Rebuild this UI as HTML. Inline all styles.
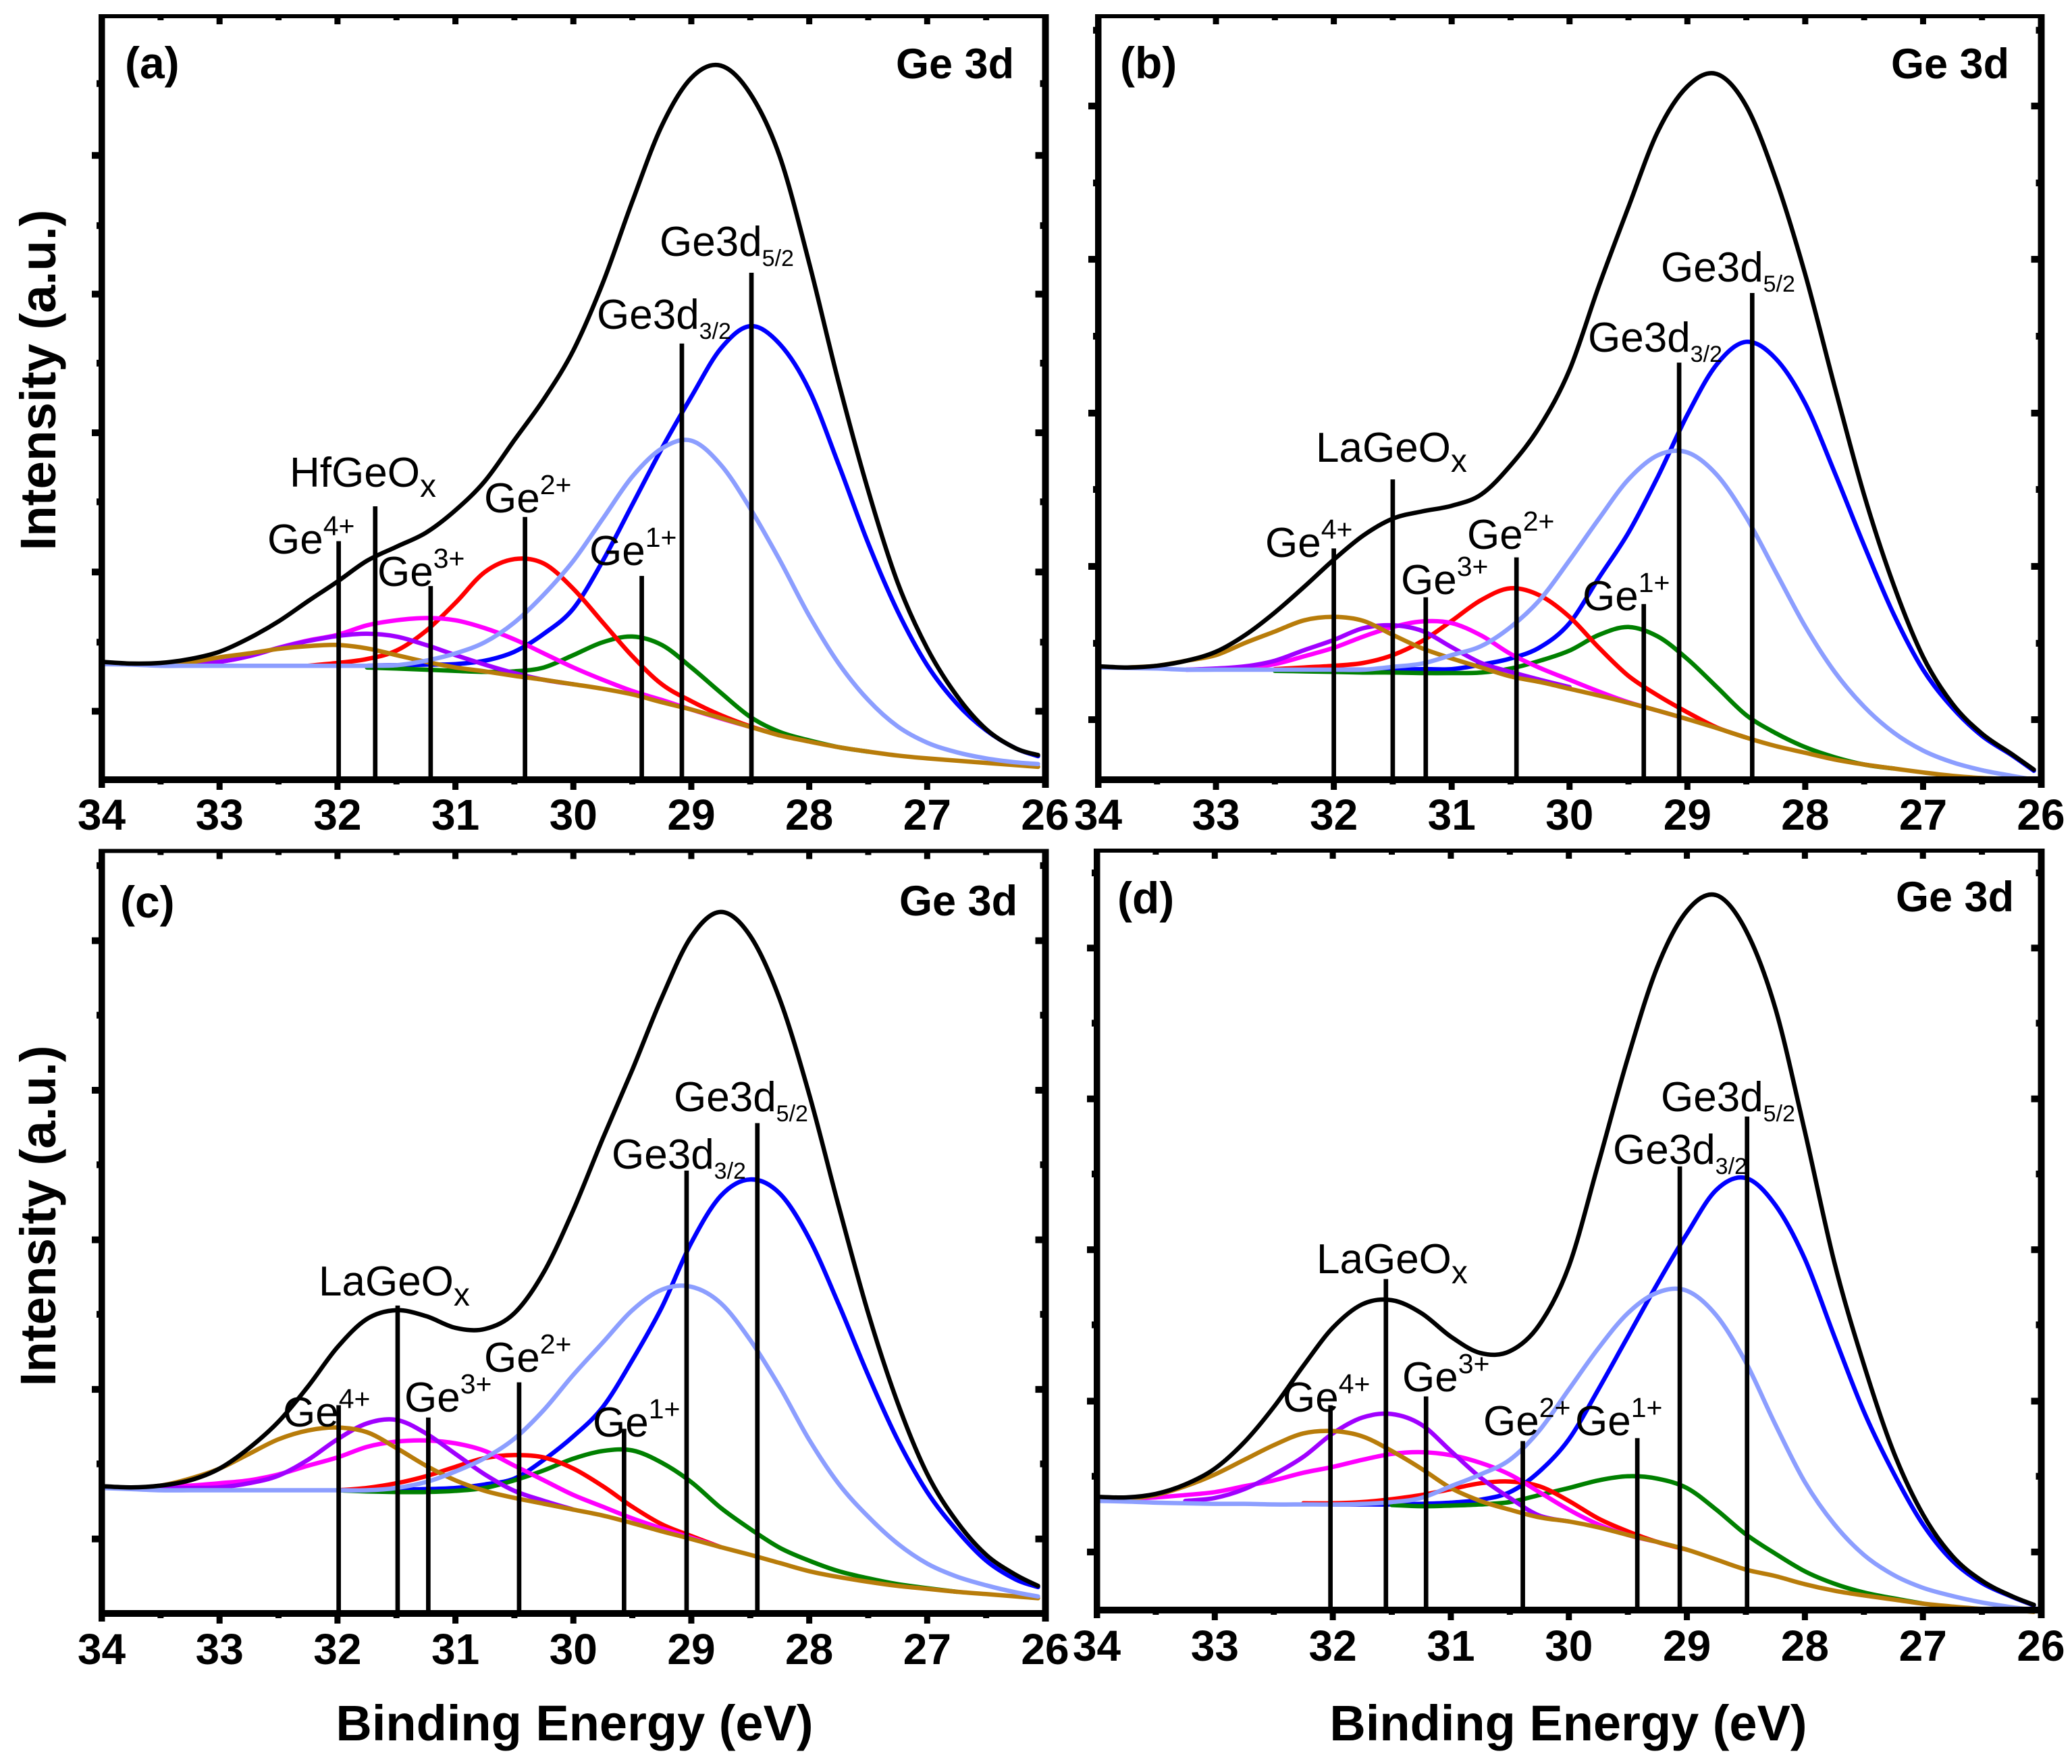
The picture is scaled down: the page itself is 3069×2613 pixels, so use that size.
<!DOCTYPE html>
<html lang="en">
<head>
<meta charset="utf-8">
<title>Ge 3d XPS spectra</title>
<style>
html,body{margin:0;padding:0;background:#fff;}
svg{display:block;}
text{font-family:"Liberation Sans",Arial,sans-serif;fill:#000;}
.pl{font-size:62px;}
.b{font-weight:bold;}
</style>
</head>
<body>
<svg id="figure" xmlns="http://www.w3.org/2000/svg" width="3069" height="2613" viewBox="0 0 3069 2613">
<rect x="0" y="0" width="3069" height="2613" fill="#fff"/>
<g id="panels"></g>

<g>
<text class="b" x="185" y="116" font-size="66">(a)</text>
<text class="b" x="1327" y="116" font-size="63">Ge 3d</text>
<text class="pl" x="396" y="820">Ge<tspan font-size="41" dy="-27">4+</tspan></text>
<text class="pl" x="429" y="721">HfGeO<tspan font-size="48" dy="15">x</tspan></text>
<text class="pl" x="559" y="868">Ge<tspan font-size="41" dy="-27">3+</tspan></text>
<text class="pl" x="717" y="759">Ge<tspan font-size="41" dy="-27">2+</tspan></text>
<text class="pl" x="873" y="837">Ge<tspan font-size="41" dy="-27">1+</tspan></text>
<text class="pl" x="884" y="487">Ge3d<tspan font-size="34" dy="15">3/2</tspan></text>
<text class="pl" x="977" y="379">Ge3d<tspan font-size="34" dy="15">5/2</tspan></text>
</g>

<g>
<text class="b" x="1659" y="116" font-size="66">(b)</text>
<text class="b" x="2801" y="116" font-size="63">Ge 3d</text>
<text class="pl" x="1874" y="825">Ge<tspan font-size="41" dy="-27">4+</tspan></text>
<text class="pl" x="1949" y="684">LaGeO<tspan font-size="48" dy="15">x</tspan></text>
<text class="pl" x="2075" y="880">Ge<tspan font-size="41" dy="-27">3+</tspan></text>
<text class="pl" x="2173" y="813">Ge<tspan font-size="41" dy="-27">2+</tspan></text>
<text class="pl" x="2344" y="904">Ge<tspan font-size="41" dy="-27">1+</tspan></text>
<text class="pl" x="2352" y="521">Ge3d<tspan font-size="34" dy="15">3/2</tspan></text>
<text class="pl" x="2460" y="417">Ge3d<tspan font-size="34" dy="15">5/2</tspan></text>
</g>

<g>
<text class="b" x="178" y="1359" font-size="66">(c)</text>
<text class="b" x="1332" y="1356" font-size="63">Ge 3d</text>
<text class="pl" x="419" y="2113">Ge<tspan font-size="41" dy="-27">4+</tspan></text>
<text class="pl" x="472" y="1919">LaGeO<tspan font-size="48" dy="15">x</tspan></text>
<text class="pl" x="599" y="2091">Ge<tspan font-size="41" dy="-27">3+</tspan></text>
<text class="pl" x="717" y="2032">Ge<tspan font-size="41" dy="-27">2+</tspan></text>
<text class="pl" x="878" y="2128">Ge<tspan font-size="41" dy="-27">1+</tspan></text>
<text class="pl" x="906" y="1731">Ge3d<tspan font-size="34" dy="15">3/2</tspan></text>
<text class="pl" x="998" y="1646">Ge3d<tspan font-size="34" dy="15">5/2</tspan></text>
</g>

<g>
<text class="b" x="1655" y="1353" font-size="66">(d)</text>
<text class="b" x="2808" y="1350" font-size="63">Ge 3d</text>
<text class="pl" x="1900" y="2091">Ge<tspan font-size="41" dy="-27">4+</tspan></text>
<text class="pl" x="1950" y="1886">LaGeO<tspan font-size="48" dy="15">x</tspan></text>
<text class="pl" x="2077" y="2061">Ge<tspan font-size="41" dy="-27">3+</tspan></text>
<text class="pl" x="2197" y="2126">Ge<tspan font-size="41" dy="-27">2+</tspan></text>
<text class="pl" x="2333" y="2126">Ge<tspan font-size="41" dy="-27">1+</tspan></text>
<text class="pl" x="2389" y="1724">Ge3d<tspan font-size="34" dy="15">3/2</tspan></text>
<text class="pl" x="2460" y="1646">Ge3d<tspan font-size="34" dy="15">5/2</tspan></text>
</g>

<text class="b" x="82" y="563" font-size="74.5" text-anchor="middle" transform="rotate(-90 82 563)">Intensity (a.u.)</text>
<text class="b" x="82" y="1801" font-size="74.5" text-anchor="middle" transform="rotate(-90 82 1801)">Intensity (a.u.)</text>
<text class="b" x="851" y="2578" font-size="74" text-anchor="middle">Binding Energy (eV)</text>
<text class="b" x="2323" y="2578" font-size="74" text-anchor="middle">Binding Energy (eV)</text>
</svg>

<script>
const energies = [34,33.75,33.5,33.25,33,32.75,32.5,32.25,32,31.75,31.5,31.25,31,30.75,30.5,30.25,30,29.75,29.5,29.25,29,28.75,28.5,28.25,28,27.75,27.5,27.25,27,26.75,26.5,26.25,26.06];
const xTickLabels = [34,33,32,31,30,29,28,27,26];
const xMinorTicks = [33.5,32.5,31.5,30.5,29.5,28.5,27.5,26.5];

const panelA_black = [210,207,208,215,228,252,282,318,353,390,415,440,480,532,605,678,765,885,1030,1165,1250,1272,1222,1110,920,707,515,351,234,150,90,56,44];
const panelA_blue = [null,null,null,null,null,null,null,null,203,203,204,205,206,212,228,260,305,390,490,590,682,768,808,776,694,561,421,300,204,136,88,56,42];
const panelA_lightblue = [206,205,203,203,203,203,203,203,203,203,204,212,225,245,280,330,390,465,540,590,604,561,483,391,292,207,142,95,66,49,38,31,28];
const panelA_brown = [null,null,204,209,218,225,233,238,240,234,222,210,200,193,185,178,170,162,152,138,125,110,94,79,68,58,50,43,38,34,30,26,23];
const panelA_purple = [null,null,204,206,210,220,235,247,256,260,255,240,222,205,190,178,170];
const panelA_magenta = [null,null,null,205,210,220,235,248,258,275,284,288,284,270,250,225,200,178,158,142,125,109,94];
const panelA_red = [null,null,null,null,null,null,null,203,208,215,230,265,315,370,393,385,340,280,220,170,140,115,95,79];
const panelA_green = [null,null,null,null,null,null,null,null,null,200,198,196,194,192,193,200,222,245,255,240,200,155,112,85,70,58,50];
const panelA_peakEnergies = [31.99,31.68,31.21,30.41,29.42,29.08,28.49];
const panelA_peakHeights = [425,487,345,468,363,777,903];
const panelA_yMajor = [1112,865,618,370,122];
const panelA_yMinor = [1240,987,742,495,245];

const panelB_black = [202,200,203,212,228,258,298,344,392,435,465,478,488,508,560,630,730,880,1020,1155,1235,1257,1200,1070,900,700,507,347,219,135,82,46,18];
const panelB_blue = [null,null,null,null,null,null,null,null,196,196,196,197,197,205,216,236,279,360,440,540,650,740,780,750,670,547,417,295,196,128,78,44,16];
const panelB_lightblue = [200,199,198,196,196,196,196,196,196,196,201,207,222,238,272,321,391,465,535,578,583,543,467,370,273,192,130,84,52,31,17,7,0];
const panelB_brown = [null,200,203,212,222,244,264,284,290,283,258,234,216,200,184,174,162,150,137,123,108,92,75,60,48,36,27,20,13,7,3,1,-2];
const panelB_purple = [null,null,null,196,198,202,212,231,249,270,275,265,236,208,192,178,165];
const panelB_magenta = [null,null,null,196,197,199,206,220,235,255,272,282,279,257,224,199,178,157,138,123,108];
const panelB_red = [null,null,null,null,null,null,197,200,203,208,222,247,283,320,341,328,290,235,185,150,120,93,75];
const panelB_green = [null,null,null,null,null,null,194,193,192,191,191,190,190,191,198,212,230,258,272,255,215,165,115,83,58,40,27,20];
const panelB_peakEnergies = [32.0,31.5,31.22,30.45,29.37,29.07,28.45];
const panelB_peakHeights = [412,535,325,396,313,743,867];
const panelB_yMajor = [1200,927,653,380,107];
const panelB_yMinor = [1335,1063,790,517,243];

const panelC_black = [217,215,218,227,247,282,327,387,454,502,517,507,487,485,512,582,688,810,927,1050,1154,1196,1155,1047,885,694,512,359,238,157,100,66,47];
const panelC_blue = [null,null,null,null,null,null,null,null,210,210,211,212,214,220,230,262,302,352,432,522,632,712,740,716,639,527,406,296,207,142,90,58,45];
const panelC_lightblue = [214,212,210,210,210,210,210,210,210,210,214,224,242,265,298,347,407,462,517,552,557,529,466,386,296,221,165,119,85,63,48,36,29];
const panelC_brown = [null,214,218,230,247,272,297,312,317,309,282,252,227,209,197,187,177,167,154,140,127,113,100,86,72,62,54,47,42,37,33,29,26];
const panelC_purple = [null,null,214,214,215,222,235,262,297,324,330,307,272,237,209,192,177];
const panelC_magenta = [null,null,216,218,222,227,237,252,266,284,293,295,290,277,252,227,202,182,162,145,129,113];
const panelC_red = [null,null,null,null,null,null,null,null,210,214,222,234,250,265,270,266,247,217,182,152,132,113];
const panelC_green = [null,null,null,null,null,null,null,null,210,208,207,207,209,214,227,244,264,277,278,257,224,180,144,112,90,72,60,50,43,37];
const panelC_peakEnergies = [31.99,31.49,31.23,30.46,29.57,29.04,28.44];
const panelC_peakHeights = [355,525,334,394,315,755,836];
const panelC_yMajor = [1147,892,637,382,127];
const panelC_yMinor = [1275,1020,765,510,255];

const panelD_black = [193,192,198,214,241,286,346,416,481,521,528,506,466,438,441,486,586,761,941,1096,1191,1218,1158,1025,815,592,418,270,163,92,50,24,9];
const panelD_blue = [null,null,null,null,null,null,null,null,180,180,180,181,183,188,201,236,291,376,466,556,641,716,736,690,598,466,338,234,146,84,46,23,8];
const panelD_lightblue = [186,185,183,182,181,181,180,180,180,181,184,191,211,231,256,306,376,446,506,541,544,502,422,316,218,146,94,60,38,24,13,5,0];
const panelD_brown = [null,189,196,211,231,256,281,301,305,296,271,241,208,186,171,158,151,141,128,116,103,86,69,58,44,33,25,18,11,6,2,0,-3];
const panelD_purple = [null,null,null,186,191,206,231,261,301,328,334,316,271,226,191,161,151];
const panelD_magenta = [null,190,192,196,201,211,221,234,244,256,266,269,264,251,231,201,171,146,128,116];
const panelD_red = [null,null,null,null,null,null,null,182,182,184,189,196,206,216,219,211,186,156,134,116,103];
const panelD_green = [null,null,null,null,null,null,null,null,null,null,179,177,178,180,184,196,208,221,228,224,208,171,129,96,66,45,30,20,11];
const panelD_peakEnergies = [32.02,31.55,31.21,30.39,29.42,29.06,28.49];
const panelD_peakHeights = [349,564,364,288,293,756,841];
const panelD_yMajor = [1128,871,614,356,99];
const panelD_yMinor = [1256,1000,743,486,228];

const seriesColors = {blue:'#0000ff',green:'#008000',red:'#ff0000',magenta:'#ff00ff',purple:'#a000ff',brown:'#b87c0a',lightblue:'#8c9eff',black:'#000000'};

const panels = [
  {id:'a',left:150.5,right:1548,top:24,bottom:1155,vmax:1360,labelY:1229,
   series:{blue:panelA_blue,green:panelA_green,red:panelA_red,magenta:panelA_magenta,purple:panelA_purple,brown:panelA_brown,lightblue:panelA_lightblue,black:panelA_black},
   peakE:panelA_peakEnergies,peakH:panelA_peakHeights,yMajor:panelA_yMajor,yMinor:panelA_yMinor},
  {id:'b',left:1626.5,right:3023,top:24,bottom:1155,vmax:1360,labelY:1229,
   series:{blue:panelB_blue,green:panelB_green,red:panelB_red,magenta:panelB_magenta,purple:panelB_purple,brown:panelB_brown,lightblue:panelB_lightblue,black:panelB_black},
   peakE:panelB_peakEnergies,peakH:panelB_peakHeights,yMajor:panelB_yMajor,yMinor:panelB_yMinor},
  {id:'c',left:150.5,right:1548,top:1260.5,bottom:2390,vmax:1300,labelY:2465,
   series:{blue:panelC_blue,green:panelC_green,red:panelC_red,magenta:panelC_magenta,purple:panelC_purple,brown:panelC_brown,lightblue:panelC_lightblue,black:panelC_black},
   peakE:panelC_peakEnergies,peakH:panelC_peakHeights,yMajor:panelC_yMajor,yMinor:panelC_yMinor},
  {id:'d',left:1624.5,right:3023,top:1260,bottom:2385,vmax:1294,labelY:2460,
   series:{blue:panelD_blue,green:panelD_green,red:panelD_red,magenta:panelD_magenta,purple:panelD_purple,brown:panelD_brown,lightblue:panelD_lightblue,black:panelD_black},
   peakE:panelD_peakEnergies,peakH:panelD_peakHeights,yMajor:panelD_yMajor,yMinor:panelD_yMinor}
];

const NS = 'http://www.w3.org/2000/svg';
function mk(tag, attrs, parent){
  const el = document.createElementNS(NS, tag);
  for (const k in attrs) el.setAttribute(k, attrs[k]);
  parent.appendChild(el);
  return el;
}
function smoothPath(pts){
  let d = 'M' + pts[0][0].toFixed(1) + ' ' + pts[0][1].toFixed(1);
  for (let i = 0; i < pts.length - 1; i++){
    const p0 = pts[Math.max(i-1,0)], p1 = pts[i], p2 = pts[i+1], p3 = pts[Math.min(i+2,pts.length-1)];
    const c1x = p1[0] + (p2[0]-p0[0])/6, c1y = p1[1] + (p2[1]-p0[1])/6;
    const c2x = p2[0] - (p3[0]-p1[0])/6, c2y = p2[1] - (p3[1]-p1[1])/6;
    d += 'C' + c1x.toFixed(1) + ' ' + c1y.toFixed(1) + ' ' + c2x.toFixed(1) + ' ' + c2y.toFixed(1) + ' ' + p2[0].toFixed(1) + ' ' + p2[1].toFixed(1);
  }
  return d;
}
const root = document.getElementById('panels');
panels.forEach(function(p){
  const xScale = function(e){ return p.left + (34 - e) * (p.right - p.left) / 8; };
  const yScale = function(v){ return p.bottom - v * (p.bottom - p.top) / p.vmax; };
  const g = mk('g', {}, root);
  
  

  // curves
  Object.keys(p.series).forEach(function(name){
    const vals = p.series[name];
    const pts = [];
    vals.forEach(function(v, i){ if (v !== null && v !== undefined) pts.push([xScale(energies[i]), yScale(v)]); });
    const path = mk('path', {d:smoothPath(pts), fill:'none', stroke:seriesColors[name], 'stroke-width':6.5, 'stroke-linejoin':'round', 'stroke-linecap':'round'}, g);
    
    
  });

  // peak position lines
  p.peakE.forEach(function(e, i){
    const line = mk('line', {x1:xScale(e), x2:xScale(e), y1:p.bottom, y2:yScale(p.peakH[i]), stroke:'#000', 'stroke-width':6.7}, g);
    
    
  });

  // frame
  const frame = [
    [p.left-4.5, p.top-3, 9.5, p.bottom-p.top+15],
    [p.right-4.5, p.top-3, 10, p.bottom-p.top+15],
    [p.left-4.5, p.top-3, p.right-p.left+10, 6],
    [p.left-4.5, p.bottom-5, p.right-p.left+10, 10]
  ];
  frame.forEach(function(f, i){
    const r = mk('rect', {x:f[0], y:f[1], width:f[2], height:f[3], fill:'#000'}, g);
    
    
  });

  // x ticks + labels
  xTickLabels.forEach(function(v){
    const x = xScale(v);
    if (v !== 34 && v !== 26){
      const t = mk('rect', {x:x-4.5, y:p.bottom, width:9, height:15, fill:'#000'}, g);
      
      
      const tt = mk('rect', {x:x-4.5, y:p.top, width:9, height:12, fill:'#000'}, g);
      
      
    }
    const lab = mk('text', {x:x, y:p.labelY, 'font-size':64, 'font-weight':'bold', 'text-anchor':'middle'}, g);
    lab.textContent = String(v);
    
    
  });
  xMinorTicks.forEach(function(v){
    const x = xScale(v);
    const t = mk('rect', {x:x-4.5, y:p.bottom, width:9, height:7, fill:'#000'}, g);
    
    
    const tt = mk('rect', {x:x-4.5, y:p.top, width:9, height:6, fill:'#000'}, g);
    
    
  });

  // y ticks
  p.yMajor.forEach(function(v){
    const y = yScale(v);
    const t = mk('rect', {x:p.left-14.5, y:y-5, width:12, height:10, fill:'#000'}, g);
    
    
    const r = mk('rect', {x:p.right-14.5, y:y-5, width:12, height:10, fill:'#000'}, g);
    
    
  });
  p.yMinor.forEach(function(v){
    const y = yScale(v);
    const t = mk('rect', {x:p.left-7.5, y:y-5, width:5, height:10, fill:'#000'}, g);
    
    
    const r = mk('rect', {x:p.right-7.5, y:y-5, width:5, height:10, fill:'#000'}, g);
    
    
  });
});
</script>
</body>
</html>
